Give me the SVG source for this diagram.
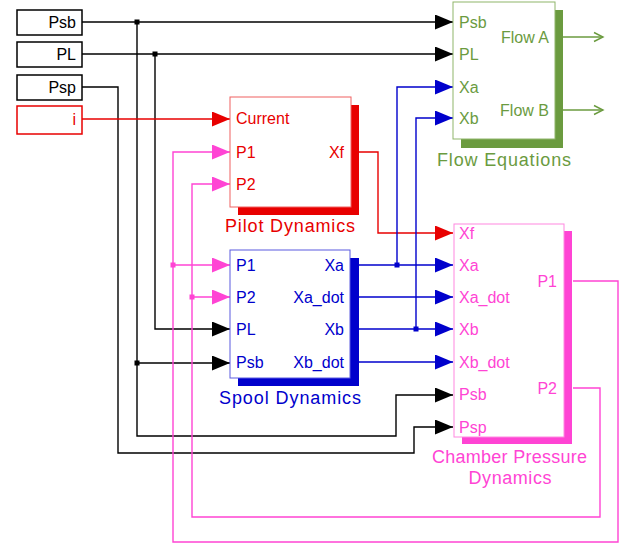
<svg xmlns="http://www.w3.org/2000/svg" width="625" height="546" viewBox="0 0 625 546">
<style>
text{font-family:"Liberation Sans",Arial,sans-serif;font-size:16px}
.bk{stroke:#000;fill:none;stroke-width:1.4}
.rd{stroke:#e80000;fill:none;stroke-width:1.4}
.pk{stroke:#ff44d4;fill:none;stroke-width:1.4}
.bl{stroke:#0000cc;fill:none;stroke-width:1.4}
.gr{stroke:#6b9b3f;fill:none;stroke-width:1.4}
.name{font-size:18px}
.end{text-anchor:end}
</style>
<defs>
<marker id="aBk" markerUnits="userSpaceOnUse" markerWidth="18" markerHeight="15" refX="18" refY="7.5" orient="auto"><path d="M0,0L18,7.5L0,15z" fill="#000"/></marker>
<marker id="aRd" markerUnits="userSpaceOnUse" markerWidth="18" markerHeight="15" refX="18" refY="7.5" orient="auto"><path d="M0,0L18,7.5L0,15z" fill="#e80000"/></marker>
<marker id="aPk" markerUnits="userSpaceOnUse" markerWidth="18" markerHeight="15" refX="18" refY="7.5" orient="auto"><path d="M0,0L18,7.5L0,15z" fill="#ff44d4"/></marker>
<marker id="aBl" markerUnits="userSpaceOnUse" markerWidth="18" markerHeight="15" refX="18" refY="7.5" orient="auto"><path d="M0,0L18,7.5L0,15z" fill="#0000cc"/></marker>
<marker id="aGr" markerUnits="userSpaceOnUse" markerWidth="12" markerHeight="12" refX="10" refY="6" orient="auto"><path d="M1,1.5L10,6L1,10.5" fill="none" stroke="#6b9b3f" stroke-width="1.4"/></marker>
</defs>

<g id="connectors">
<path class="bk" d="M82,22H453" marker-end="url(#aBk)"/>
<path class="bk" d="M137,22V436H396V395H453" marker-end="url(#aBk)"/>
<path class="bk" d="M137,363H230" marker-end="url(#aBk)"/>
<path class="bk" d="M82,54H453" marker-end="url(#aBk)"/>
<path class="bk" d="M155,54V329H230" marker-end="url(#aBk)"/>
<path class="bk" d="M82,87H118V453H414V427H453" marker-end="url(#aBk)"/>
<rect x="134.5" y="19.5" width="5" height="5" fill="#000"/>
<rect x="152.5" y="51.5" width="5" height="5" fill="#000"/>
<rect x="134.5" y="360.5" width="5" height="5" fill="#000"/>
<path class="rd" d="M82,119H230" marker-end="url(#aRd)"/>
<path class="rd" d="M359,152H378V233H453" marker-end="url(#aRd)"/>
<path class="pk" d="M573,281H618V542H173V152H230" marker-end="url(#aPk)"/>
<path class="pk" d="M173,265H230" marker-end="url(#aPk)"/>
<path class="pk" d="M573,388H600V517H192V184H230" marker-end="url(#aPk)"/>
<path class="pk" d="M192,297H230" marker-end="url(#aPk)"/>
<rect x="170.5" y="262.5" width="5" height="5" fill="#ff44d4"/>
<rect x="189.5" y="294.5" width="5" height="5" fill="#ff44d4"/>
<path class="bl" d="M359,265H453" marker-end="url(#aBl)"/>
<path class="bl" d="M397,265V87H453" marker-end="url(#aBl)"/>
<path class="bl" d="M359,297H453" marker-end="url(#aBl)"/>
<path class="bl" d="M359,329H453" marker-end="url(#aBl)"/>
<path class="bl" d="M416,329V118H453" marker-end="url(#aBl)"/>
<path class="bl" d="M359,362H453" marker-end="url(#aBl)"/>
<rect x="394.5" y="262.5" width="5" height="5" fill="#0000cc"/>
<rect x="413.5" y="326.5" width="5" height="5" fill="#0000cc"/>
<path class="gr" d="M563,37H603" marker-end="url(#aGr)"/>
<path class="gr" d="M563,110H603" marker-end="url(#aGr)"/>
</g>

<g id="in-Psb">
<rect x="17" y="10" width="65" height="25" fill="#fff" stroke="#000" stroke-width="1.5"/>
<text x="76" y="28" class="end">Psb</text>
</g>
<g id="in-PL">
<rect x="17" y="42" width="65" height="25" fill="#fff" stroke="#000" stroke-width="1.5"/>
<text x="76" y="60" class="end">PL</text>
</g>
<g id="in-Psp">
<rect x="17" y="75" width="65" height="25" fill="#fff" stroke="#000" stroke-width="1.5"/>
<text x="76" y="93" class="end">Psp</text>
</g>
<g id="in-i">
<rect x="17" y="106" width="65" height="28" fill="#fff" stroke="#e80000" stroke-width="1.5"/>
<text x="76" y="125" class="end" fill="#e80000">i</text>
</g>

<g id="flow-equations" fill="#6b9b3f">
<rect x="461" y="10" width="102" height="138" fill="#6b9b3f"/>
<rect x="453" y="2" width="102" height="137" fill="#fff" stroke="#8fb56a" stroke-width="1"/>
<text x="459" y="28">Psb</text>
<text x="459" y="60">PL</text>
<text x="459" y="93">Xa</text>
<text x="459" y="124">Xb</text>
<text x="549" y="43" class="end">Flow A</text>
<text x="549" y="116" class="end">Flow B</text>
<text x="504" y="166" class="name" text-anchor="middle" textLength="134" lengthAdjust="spacing">Flow Equations</text>
</g>

<g id="pilot-dynamics" fill="#e80000">
<rect x="238" y="105" width="121" height="110" fill="#e80000"/>
<rect x="230" y="97" width="121" height="110" fill="#fff" stroke="#f06060" stroke-width="1"/>
<text x="236" y="124">Current</text>
<text x="236" y="158">P1</text>
<text x="236" y="190">P2</text>
<text x="344" y="158" class="end">Xf</text>
<text x="290" y="232" class="name" text-anchor="middle" textLength="130" lengthAdjust="spacing">Pilot Dynamics</text>
</g>

<g id="spool-dynamics" fill="#0000cc">
<rect x="238" y="258" width="121" height="128" fill="#0000cc"/>
<rect x="230" y="250" width="120" height="128" fill="#fff" stroke="#5a5ae0" stroke-width="1"/>
<text x="236" y="271">P1</text>
<text x="236" y="303">P2</text>
<text x="236" y="335">PL</text>
<text x="236" y="368">Psb</text>
<text x="344" y="271" class="end">Xa</text>
<text x="344" y="303" class="end">Xa_dot</text>
<text x="344" y="335" class="end">Xb</text>
<text x="344" y="368" class="end">Xb_dot</text>
<text x="290" y="404" class="name" text-anchor="middle" textLength="142" lengthAdjust="spacing">Spool Dynamics</text>
</g>

<g id="chamber-pressure-dynamics" fill="#ff44d4">
<rect x="462" y="231" width="110" height="213" fill="#ff44d4"/>
<rect x="454" y="224" width="110" height="213" fill="#fff" stroke="#ff88e0" stroke-width="1"/>
<text x="459" y="239">Xf</text>
<text x="459" y="271">Xa</text>
<text x="459" y="303">Xa_dot</text>
<text x="459" y="335">Xb</text>
<text x="459" y="368">Xb_dot</text>
<text x="459" y="400">Psb</text>
<text x="459" y="433">Psp</text>
<text x="557" y="287" class="end">P1</text>
<text x="557" y="394" class="end">P2</text>
<text x="509.5" y="463" class="name" text-anchor="middle" textLength="155" lengthAdjust="spacing">Chamber Pressure</text>
<text x="510" y="484" class="name" text-anchor="middle" textLength="83" lengthAdjust="spacing">Dynamics</text>
</g>
</svg>
